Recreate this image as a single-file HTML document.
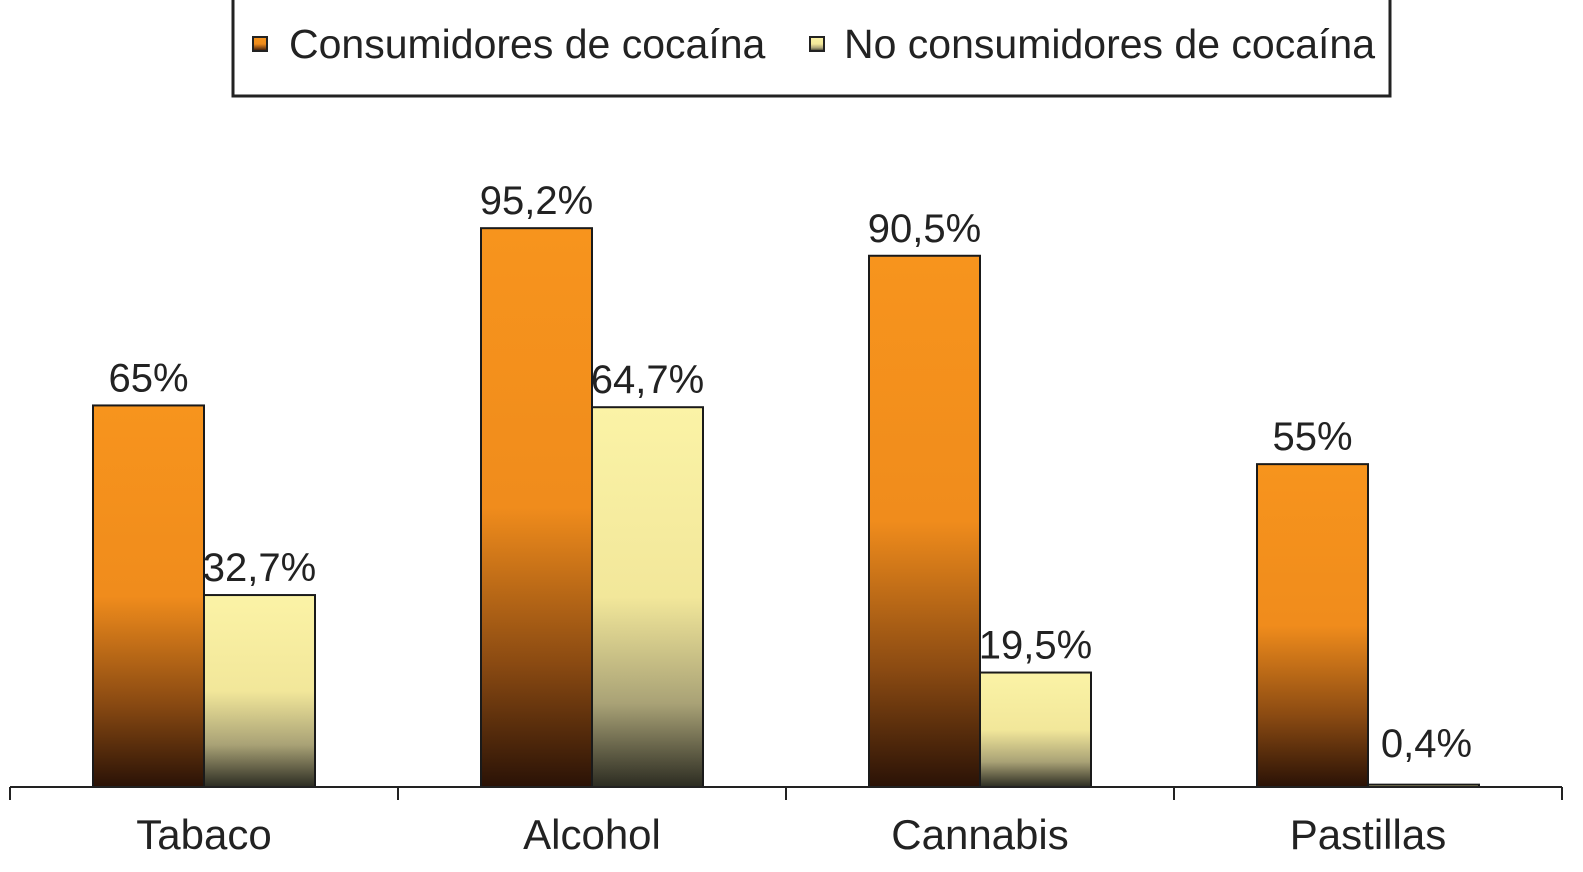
<!DOCTYPE html>
<html><head><meta charset="utf-8"><style>
body{margin:0;background:#fff;width:1583px;height:867px;overflow:hidden;font-family:"Liberation Sans",sans-serif}
</style></head><body>
<svg width="1583" height="867" xmlns="http://www.w3.org/2000/svg">
<defs>
<linearGradient id="gO" x1="0" y1="0" x2="0" y2="1"><stop offset="0" stop-color="#f7941d"/><stop offset="0.5" stop-color="#f08c1c"/><stop offset="0.78" stop-color="#8a4a12"/><stop offset="1" stop-color="#2a1206"/></linearGradient>
<linearGradient id="gY" x1="0" y1="0" x2="0" y2="1"><stop offset="0" stop-color="#fbf3a6"/><stop offset="0.5" stop-color="#f2e79a"/><stop offset="0.78" stop-color="#a9a276"/><stop offset="1" stop-color="#2c2c22"/></linearGradient>
</defs>
<g>
<rect x="233" y="-2" width="1157" height="98" fill="#fff" stroke="#222" stroke-width="3"/>
<rect x="253" y="37" width="14" height="14" fill="url(#gO)" stroke="#222" stroke-width="2"/>
<text x="289" y="58" font-size="41" fill="#222">Consumidores de cocaína</text>
<rect x="810" y="37" width="14" height="14" fill="url(#gY)" stroke="#222" stroke-width="2"/>
<text x="844" y="58" font-size="41" fill="#222">No consumidores de cocaína</text>
</g>
<g id="plot"></g>
</svg>
<script>
const categories=["Tabaco","Alcohol","Cannabis","Pastillas"];
const consumidores=[65,95.2,90.5,55];
const noConsumidores=[32.7,64.7,19.5,0.4];
const consLabels=["65%","95,2%","90,5%","55%"];
const noLabels=["32,7%","64,7%","19,5%","0,4%"];
const NS="http://www.w3.org/2000/svg";
const g=document.getElementById('plot');
const x0=10,catW=388,base=787,scale=5.87;
const y=v=>base-v*scale;
function mk(t,a){const e=document.createElementNS(NS,t);for(const k in a)e.setAttribute(k,a[k]);g.appendChild(e);return e;}
categories.forEach((c,i)=>{
  const cx=x0+i*catW;
  const series=[[consumidores[i],consLabels[i],"url(#gO)",cx+83,'bar-consumidores-'],[noConsumidores[i],noLabels[i],"url(#gY)",cx+194,'bar-no-consumidores-']];
  series.forEach(s=>{
    const h=Math.max(base-y(s[0]),1);
    const r=mk('rect',{x:s[3],y:base-h,width:111,height:h,fill:s[2],stroke:"#1a1a1a","stroke-width":2});
    
    
    const low=y(s[0])-16>758;
    const t=mk('text',{x:s[3]+55.5+(low?3:0),y:Math.min(y(s[0])-14,757),"font-size":40,"text-anchor":"middle",fill:"#222"});
    t.textContent=s[1];
    
    
  });
  const l=mk('text',{x:cx+catW/2,y:849,"font-size":42,"text-anchor":"middle",fill:"#222"});
  l.textContent=c;
  
  
});
const ax=mk('line',{x1:x0,y1:base,x2:x0+4*catW,y2:base,stroke:"#222","stroke-width":2});


for(let i=0;i<=4;i++){
  const tk=mk('line',{x1:x0+i*catW,y1:base,x2:x0+i*catW,y2:base+13,stroke:"#222","stroke-width":2});
  
  
}
</script>
</body></html>
